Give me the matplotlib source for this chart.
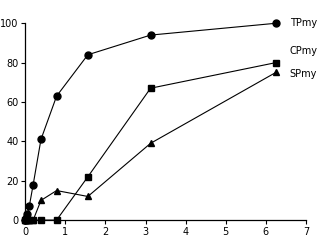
import matplotlib
matplotlib.use("Agg")
import matplotlib.pyplot as plt

# concentrations (doubling dilutions) and % values
conc = [0, 0.024, 0.049, 0.098, 0.195, 0.39, 0.78, 1.56, 3.125, 6.25]
tpmy = [0, 1, 3, 7, 18, 41, 63, 84, 94, 100]
cpmy = [0, 0, 0, 0, 0, 0, 0, 22, 67, 80]
spmy = [0, 0, 0, 0, 0, 10, 15, 12, 39, 75]

labels = ['TPmy', 'CPmy', 'SPmy']
label_y = [100, 86, 74]

fig = plt.figure(figsize=(3.25, 2.4), dpi=100)
ax = fig.add_axes([0.078, 0.083, 0.863, 0.82])

ax.plot(conc, tpmy, color='black', marker='o', markersize=5, linewidth=0.8, clip_on=False)
ax.plot(conc, cpmy, color='black', marker='s', markersize=5, linewidth=0.8, clip_on=False)
ax.plot(conc, spmy, color='black', marker='^', markersize=5, linewidth=0.8, clip_on=False)

for txt, yv in zip(labels, label_y):
    ax.text(6.6, yv, txt, fontsize=7, va='center', ha='left', clip_on=False)

ax.set_xlim(0, 7)
ax.set_ylim(0, 100)
ax.set_xticks(range(0, 8))
ax.set_yticks(range(0, 101, 20))
ax.spines['top'].set_visible(False)
ax.spines['right'].set_visible(False)
for s in ['left', 'bottom']:
    ax.spines[s].set_linewidth(0.9)
ax.tick_params(labelsize=7, length=3, width=0.8, pad=2)

fig.savefig('out.png', dpi=100)
